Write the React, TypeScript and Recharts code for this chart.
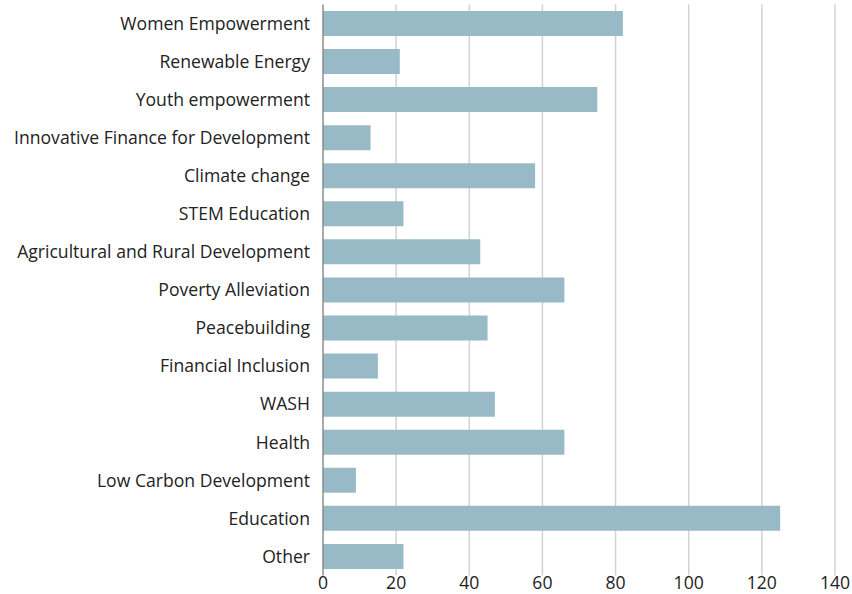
import { Bar, BarChart, CartesianGrid, XAxis, YAxis } from "recharts";

const categories = [
  "Women Empowerment",
  "Renewable Energy",
  "Youth empowerment",
  "Innovative Finance for Development",
  "Climate change",
  "STEM Education",
  "Agricultural and Rural Development",
  "Poverty Alleviation",
  "Peacebuilding",
  "Financial Inclusion",
  "WASH",
  "Health",
  "Low Carbon Development",
  "Education",
  "Other",
];

const counts = [82, 21, 75, 13, 58, 22, 43, 66, 45, 15, 47, 66, 9, 125, 22];

const xTicks = [0, 20, 40, 60, 80, 100, 120, 140];

const rows = categories.map((name, i) => ({ name, value: counts[i] }));

const FONT = "'Open Sans', sans-serif";
const TICK = { fontSize: 17.6, fill: "#222", fontFamily: FONT };

export default function App() {
  return (
    <div style={{ position: "absolute", left: 0, top: 0, background: "#fff" }}>
      <BarChart
        width={852}
        height={594}
        data={rows}
        layout="vertical"
        margin={{ top: 4.5, right: 17, left: 0, bottom: 0 }}
        barCategoryGap="17%"
      >
        <CartesianGrid horizontal={false} stroke="#d2d2d2" strokeWidth={1.5} />
        <XAxis
          type="number"
          domain={[0, 140]}
          ticks={xTicks}
          tick={TICK}
          tickLine={false}
          axisLine={false}
          tickSize={0}
          tickMargin={1}
          height={18.5}
        />
        <YAxis
          type="category"
          dataKey="name"
          width={323}
          tick={TICK}
          tickLine={false}
          tickSize={0}
          tickMargin={13}
          axisLine={{ stroke: "#777", strokeWidth: 1 }}
          interval={0}
        />
        <Bar dataKey="value" fill="#98bac6" isAnimationActive={false} />
      </BarChart>
    </div>
  );
}
